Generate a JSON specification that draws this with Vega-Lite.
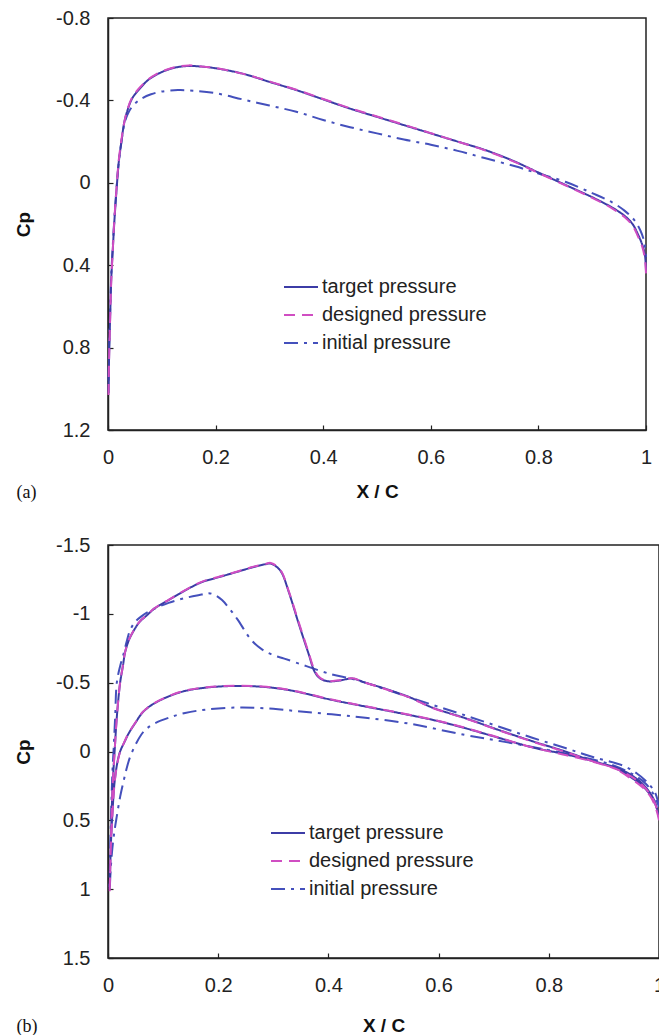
{
  "$schema": "https://vega.github.io/schema/vega-lite/v6.json",
  "background": "white",
  "padding": {"left": 13, "top": 7, "right": 2, "bottom": 2},
  "datasets": {
    "a": [
      {"s":"target pressure","i":0,"x":0.001,"cp":1.02},{"s":"target pressure","i":1,"x":0.002,"cp":0.85},{"s":"target pressure","i":2,"x":0.004,"cp":0.65},{"s":"target pressure","i":3,"x":0.006,"cp":0.47},{"s":"target pressure","i":4,"x":0.009,"cp":0.32},{"s":"target pressure","i":5,"x":0.012,"cp":0.18},{"s":"target pressure","i":6,"x":0.016,"cp":0.03},{"s":"target pressure","i":7,"x":0.02,"cp":-0.1},{"s":"target pressure","i":8,"x":0.025,"cp":-0.2},{"s":"target pressure","i":9,"x":0.03,"cp":-0.29},{"s":"target pressure","i":10,"x":0.036,"cp":-0.35},{"s":"target pressure","i":11,"x":0.045,"cp":-0.41},{"s":"target pressure","i":12,"x":0.06,"cp":-0.46},{"s":"target pressure","i":13,"x":0.075,"cp":-0.5},{"s":"target pressure","i":14,"x":0.09,"cp":-0.525},{"s":"target pressure","i":15,"x":0.11,"cp":-0.548},{"s":"target pressure","i":16,"x":0.13,"cp":-0.562},{"s":"target pressure","i":17,"x":0.15,"cp":-0.567},{"s":"target pressure","i":18,"x":0.17,"cp":-0.565},{"s":"target pressure","i":19,"x":0.2,"cp":-0.556},{"s":"target pressure","i":20,"x":0.25,"cp":-0.53},{"s":"target pressure","i":21,"x":0.3,"cp":-0.49},{"s":"target pressure","i":22,"x":0.35,"cp":-0.45},{"s":"target pressure","i":23,"x":0.4,"cp":-0.405},{"s":"target pressure","i":24,"x":0.45,"cp":-0.36},{"s":"target pressure","i":25,"x":0.5,"cp":-0.32},{"s":"target pressure","i":26,"x":0.55,"cp":-0.28},{"s":"target pressure","i":27,"x":0.6,"cp":-0.24},{"s":"target pressure","i":28,"x":0.65,"cp":-0.2},{"s":"target pressure","i":29,"x":0.7,"cp":-0.16},{"s":"target pressure","i":30,"x":0.75,"cp":-0.11},{"s":"target pressure","i":31,"x":0.8,"cp":-0.05},{"s":"target pressure","i":32,"x":0.85,"cp":0.01},{"s":"target pressure","i":33,"x":0.9,"cp":0.07},{"s":"target pressure","i":34,"x":0.937,"cp":0.12},{"s":"target pressure","i":35,"x":0.96,"cp":0.16},{"s":"target pressure","i":36,"x":0.975,"cp":0.2},{"s":"target pressure","i":37,"x":0.985,"cp":0.25},{"s":"target pressure","i":38,"x":0.993,"cp":0.3},{"s":"target pressure","i":39,"x":0.998,"cp":0.35},{"s":"target pressure","i":40,"x":1.0,"cp":0.43},
      {"s":"designed pressure","i":0,"x":0.001,"cp":1.03},{"s":"designed pressure","i":1,"x":0.002,"cp":0.86},{"s":"designed pressure","i":2,"x":0.004,"cp":0.66},{"s":"designed pressure","i":3,"x":0.006,"cp":0.48},{"s":"designed pressure","i":4,"x":0.009,"cp":0.32},{"s":"designed pressure","i":5,"x":0.012,"cp":0.17},{"s":"designed pressure","i":6,"x":0.016,"cp":0.02},{"s":"designed pressure","i":7,"x":0.02,"cp":-0.11},{"s":"designed pressure","i":8,"x":0.025,"cp":-0.21},{"s":"designed pressure","i":9,"x":0.03,"cp":-0.29},{"s":"designed pressure","i":10,"x":0.036,"cp":-0.355},{"s":"designed pressure","i":11,"x":0.045,"cp":-0.415},{"s":"designed pressure","i":12,"x":0.06,"cp":-0.465},{"s":"designed pressure","i":13,"x":0.075,"cp":-0.503},{"s":"designed pressure","i":14,"x":0.09,"cp":-0.528},{"s":"designed pressure","i":15,"x":0.11,"cp":-0.55},{"s":"designed pressure","i":16,"x":0.13,"cp":-0.564},{"s":"designed pressure","i":17,"x":0.15,"cp":-0.57},{"s":"designed pressure","i":18,"x":0.17,"cp":-0.566},{"s":"designed pressure","i":19,"x":0.2,"cp":-0.557},{"s":"designed pressure","i":20,"x":0.25,"cp":-0.53},{"s":"designed pressure","i":21,"x":0.3,"cp":-0.492},{"s":"designed pressure","i":22,"x":0.35,"cp":-0.452},{"s":"designed pressure","i":23,"x":0.4,"cp":-0.407},{"s":"designed pressure","i":24,"x":0.45,"cp":-0.362},{"s":"designed pressure","i":25,"x":0.5,"cp":-0.322},{"s":"designed pressure","i":26,"x":0.55,"cp":-0.282},{"s":"designed pressure","i":27,"x":0.6,"cp":-0.241},{"s":"designed pressure","i":28,"x":0.65,"cp":-0.2},{"s":"designed pressure","i":29,"x":0.7,"cp":-0.158},{"s":"designed pressure","i":30,"x":0.75,"cp":-0.108},{"s":"designed pressure","i":31,"x":0.8,"cp":-0.048},{"s":"designed pressure","i":32,"x":0.85,"cp":0.012},{"s":"designed pressure","i":33,"x":0.9,"cp":0.073},{"s":"designed pressure","i":34,"x":0.937,"cp":0.124},{"s":"designed pressure","i":35,"x":0.96,"cp":0.166},{"s":"designed pressure","i":36,"x":0.975,"cp":0.208},{"s":"designed pressure","i":37,"x":0.985,"cp":0.26},{"s":"designed pressure","i":38,"x":0.993,"cp":0.31},{"s":"designed pressure","i":39,"x":0.998,"cp":0.37},{"s":"designed pressure","i":40,"x":1.0,"cp":0.44},
      {"s":"initial pressure","i":0,"x":0.001,"cp":0.96},{"s":"initial pressure","i":1,"x":0.002,"cp":0.8},{"s":"initial pressure","i":2,"x":0.004,"cp":0.62},{"s":"initial pressure","i":3,"x":0.006,"cp":0.45},{"s":"initial pressure","i":4,"x":0.009,"cp":0.3},{"s":"initial pressure","i":5,"x":0.012,"cp":0.17},{"s":"initial pressure","i":6,"x":0.016,"cp":0.02},{"s":"initial pressure","i":7,"x":0.02,"cp":-0.1},{"s":"initial pressure","i":8,"x":0.025,"cp":-0.2},{"s":"initial pressure","i":9,"x":0.03,"cp":-0.28},{"s":"initial pressure","i":10,"x":0.036,"cp":-0.33},{"s":"initial pressure","i":11,"x":0.045,"cp":-0.37},{"s":"initial pressure","i":12,"x":0.06,"cp":-0.405},{"s":"initial pressure","i":13,"x":0.08,"cp":-0.43},{"s":"initial pressure","i":14,"x":0.1,"cp":-0.443},{"s":"initial pressure","i":15,"x":0.13,"cp":-0.45},{"s":"initial pressure","i":16,"x":0.16,"cp":-0.447},{"s":"initial pressure","i":17,"x":0.2,"cp":-0.435},{"s":"initial pressure","i":18,"x":0.25,"cp":-0.405},{"s":"initial pressure","i":19,"x":0.3,"cp":-0.375},{"s":"initial pressure","i":20,"x":0.35,"cp":-0.345},{"s":"initial pressure","i":21,"x":0.4,"cp":-0.305},{"s":"initial pressure","i":22,"x":0.45,"cp":-0.27},{"s":"initial pressure","i":23,"x":0.5,"cp":-0.24},{"s":"initial pressure","i":24,"x":0.55,"cp":-0.21},{"s":"initial pressure","i":25,"x":0.6,"cp":-0.185},{"s":"initial pressure","i":26,"x":0.65,"cp":-0.155},{"s":"initial pressure","i":27,"x":0.7,"cp":-0.12},{"s":"initial pressure","i":28,"x":0.757,"cp":-0.08},{"s":"initial pressure","i":29,"x":0.8,"cp":-0.045},{"s":"initial pressure","i":30,"x":0.85,"cp":-0.005},{"s":"initial pressure","i":31,"x":0.9,"cp":0.05},{"s":"initial pressure","i":32,"x":0.937,"cp":0.095},{"s":"initial pressure","i":33,"x":0.96,"cp":0.135},{"s":"initial pressure","i":34,"x":0.978,"cp":0.18},{"s":"initial pressure","i":35,"x":0.99,"cp":0.234},{"s":"initial pressure","i":36,"x":0.997,"cp":0.29},{"s":"initial pressure","i":37,"x":1.0,"cp":0.36}
    ],
    "b": [
      {"s":"target pressure","i":0,"x":1.0,"cp":0.48},{"s":"target pressure","i":1,"x":0.995,"cp":0.4},{"s":"target pressure","i":2,"x":0.985,"cp":0.32},{"s":"target pressure","i":3,"x":0.97,"cp":0.25},{"s":"target pressure","i":4,"x":0.95,"cp":0.19},{"s":"target pressure","i":5,"x":0.92,"cp":0.12},{"s":"target pressure","i":6,"x":0.88,"cp":0.07},{"s":"target pressure","i":7,"x":0.83,"cp":0.0},{"s":"target pressure","i":8,"x":0.77,"cp":-0.075},{"s":"target pressure","i":9,"x":0.71,"cp":-0.155},{"s":"target pressure","i":10,"x":0.65,"cp":-0.24},{"s":"target pressure","i":11,"x":0.588,"cp":-0.32},{"s":"target pressure","i":12,"x":0.55,"cp":-0.39},{"s":"target pressure","i":13,"x":0.5,"cp":-0.46},{"s":"target pressure","i":14,"x":0.467,"cp":-0.5},{"s":"target pressure","i":15,"x":0.443,"cp":-0.53},{"s":"target pressure","i":16,"x":0.42,"cp":-0.515},{"s":"target pressure","i":17,"x":0.4,"cp":-0.51},{"s":"target pressure","i":18,"x":0.385,"cp":-0.53},{"s":"target pressure","i":19,"x":0.375,"cp":-0.58},{"s":"target pressure","i":20,"x":0.364,"cp":-0.71},{"s":"target pressure","i":21,"x":0.346,"cp":-0.93},{"s":"target pressure","i":22,"x":0.328,"cp":-1.16},{"s":"target pressure","i":23,"x":0.315,"cp":-1.3},{"s":"target pressure","i":24,"x":0.305,"cp":-1.345},{"s":"target pressure","i":25,"x":0.295,"cp":-1.365},{"s":"target pressure","i":26,"x":0.285,"cp":-1.36},{"s":"target pressure","i":27,"x":0.26,"cp":-1.335},{"s":"target pressure","i":28,"x":0.23,"cp":-1.3},{"s":"target pressure","i":29,"x":0.2,"cp":-1.265},{"s":"target pressure","i":30,"x":0.17,"cp":-1.23},{"s":"target pressure","i":31,"x":0.14,"cp":-1.17},{"s":"target pressure","i":32,"x":0.11,"cp":-1.1},{"s":"target pressure","i":33,"x":0.085,"cp":-1.04},{"s":"target pressure","i":34,"x":0.068,"cp":-0.98},{"s":"target pressure","i":35,"x":0.057,"cp":-0.94},{"s":"target pressure","i":36,"x":0.047,"cp":-0.88},{"s":"target pressure","i":37,"x":0.038,"cp":-0.81},{"s":"target pressure","i":38,"x":0.031,"cp":-0.72},{"s":"target pressure","i":39,"x":0.027,"cp":-0.62},{"s":"target pressure","i":40,"x":0.022,"cp":-0.5},{"s":"target pressure","i":41,"x":0.016,"cp":-0.25},{"s":"target pressure","i":42,"x":0.012,"cp":0.0},{"s":"target pressure","i":43,"x":0.009,"cp":0.2},{"s":"target pressure","i":44,"x":0.007,"cp":0.4},{"s":"target pressure","i":45,"x":0.005,"cp":0.7},{"s":"target pressure","i":46,"x":0.003,"cp":1.0},{"s":"target pressure","i":47,"x":0.005,"cp":0.7},{"s":"target pressure","i":48,"x":0.008,"cp":0.45},{"s":"target pressure","i":49,"x":0.012,"cp":0.22},{"s":"target pressure","i":50,"x":0.017,"cp":0.08},{"s":"target pressure","i":51,"x":0.022,"cp":0.0},{"s":"target pressure","i":52,"x":0.03,"cp":-0.07},{"s":"target pressure","i":53,"x":0.038,"cp":-0.135},{"s":"target pressure","i":54,"x":0.05,"cp":-0.21},{"s":"target pressure","i":55,"x":0.062,"cp":-0.28},{"s":"target pressure","i":56,"x":0.08,"cp":-0.34},{"s":"target pressure","i":57,"x":0.11,"cp":-0.4},{"s":"target pressure","i":58,"x":0.14,"cp":-0.44},{"s":"target pressure","i":59,"x":0.18,"cp":-0.465},{"s":"target pressure","i":60,"x":0.23,"cp":-0.476},{"s":"target pressure","i":61,"x":0.28,"cp":-0.47},{"s":"target pressure","i":62,"x":0.33,"cp":-0.445},{"s":"target pressure","i":63,"x":0.406,"cp":-0.375},{"s":"target pressure","i":64,"x":0.45,"cp":-0.34},{"s":"target pressure","i":65,"x":0.528,"cp":-0.28},{"s":"target pressure","i":66,"x":0.6,"cp":-0.22},{"s":"target pressure","i":67,"x":0.648,"cp":-0.17},{"s":"target pressure","i":68,"x":0.7,"cp":-0.11},{"s":"target pressure","i":69,"x":0.77,"cp":-0.03},{"s":"target pressure","i":70,"x":0.83,"cp":0.02},{"s":"target pressure","i":71,"x":0.89,"cp":0.08},{"s":"target pressure","i":72,"x":0.93,"cp":0.13},{"s":"target pressure","i":73,"x":0.96,"cp":0.2},{"s":"target pressure","i":74,"x":0.98,"cp":0.28},{"s":"target pressure","i":75,"x":0.993,"cp":0.37},{"s":"target pressure","i":76,"x":1.0,"cp":0.48},
      {"s":"designed pressure","i":0,"x":1.0,"cp":0.5},{"s":"designed pressure","i":1,"x":0.995,"cp":0.42},{"s":"designed pressure","i":2,"x":0.985,"cp":0.33},{"s":"designed pressure","i":3,"x":0.97,"cp":0.26},{"s":"designed pressure","i":4,"x":0.95,"cp":0.2},{"s":"designed pressure","i":5,"x":0.92,"cp":0.125},{"s":"designed pressure","i":6,"x":0.88,"cp":0.072},{"s":"designed pressure","i":7,"x":0.83,"cp":0.003},{"s":"designed pressure","i":8,"x":0.77,"cp":-0.072},{"s":"designed pressure","i":9,"x":0.71,"cp":-0.153},{"s":"designed pressure","i":10,"x":0.65,"cp":-0.238},{"s":"designed pressure","i":11,"x":0.588,"cp":-0.318},{"s":"designed pressure","i":12,"x":0.55,"cp":-0.388},{"s":"designed pressure","i":13,"x":0.5,"cp":-0.458},{"s":"designed pressure","i":14,"x":0.467,"cp":-0.5},{"s":"designed pressure","i":15,"x":0.443,"cp":-0.532},{"s":"designed pressure","i":16,"x":0.42,"cp":-0.518},{"s":"designed pressure","i":17,"x":0.4,"cp":-0.512},{"s":"designed pressure","i":18,"x":0.385,"cp":-0.535},{"s":"designed pressure","i":19,"x":0.375,"cp":-0.59},{"s":"designed pressure","i":20,"x":0.364,"cp":-0.72},{"s":"designed pressure","i":21,"x":0.346,"cp":-0.94},{"s":"designed pressure","i":22,"x":0.328,"cp":-1.165},{"s":"designed pressure","i":23,"x":0.315,"cp":-1.305},{"s":"designed pressure","i":24,"x":0.305,"cp":-1.35},{"s":"designed pressure","i":25,"x":0.295,"cp":-1.37},{"s":"designed pressure","i":26,"x":0.285,"cp":-1.362},{"s":"designed pressure","i":27,"x":0.26,"cp":-1.338},{"s":"designed pressure","i":28,"x":0.23,"cp":-1.302},{"s":"designed pressure","i":29,"x":0.2,"cp":-1.268},{"s":"designed pressure","i":30,"x":0.17,"cp":-1.232},{"s":"designed pressure","i":31,"x":0.14,"cp":-1.172},{"s":"designed pressure","i":32,"x":0.11,"cp":-1.102},{"s":"designed pressure","i":33,"x":0.085,"cp":-1.042},{"s":"designed pressure","i":34,"x":0.068,"cp":-0.982},{"s":"designed pressure","i":35,"x":0.057,"cp":-0.942},{"s":"designed pressure","i":36,"x":0.047,"cp":-0.882},{"s":"designed pressure","i":37,"x":0.038,"cp":-0.812},{"s":"designed pressure","i":38,"x":0.031,"cp":-0.722},{"s":"designed pressure","i":39,"x":0.027,"cp":-0.622},{"s":"designed pressure","i":40,"x":0.022,"cp":-0.5},{"s":"designed pressure","i":41,"x":0.016,"cp":-0.25},{"s":"designed pressure","i":42,"x":0.012,"cp":0.0},{"s":"designed pressure","i":43,"x":0.009,"cp":0.2},{"s":"designed pressure","i":44,"x":0.007,"cp":0.4},{"s":"designed pressure","i":45,"x":0.005,"cp":0.7},{"s":"designed pressure","i":46,"x":0.003,"cp":1.03},{"s":"designed pressure","i":47,"x":0.005,"cp":0.72},{"s":"designed pressure","i":48,"x":0.008,"cp":0.46},{"s":"designed pressure","i":49,"x":0.012,"cp":0.23},{"s":"designed pressure","i":50,"x":0.017,"cp":0.085},{"s":"designed pressure","i":51,"x":0.022,"cp":0.002},{"s":"designed pressure","i":52,"x":0.03,"cp":-0.072},{"s":"designed pressure","i":53,"x":0.038,"cp":-0.138},{"s":"designed pressure","i":54,"x":0.05,"cp":-0.212},{"s":"designed pressure","i":55,"x":0.062,"cp":-0.282},{"s":"designed pressure","i":56,"x":0.08,"cp":-0.342},{"s":"designed pressure","i":57,"x":0.11,"cp":-0.402},{"s":"designed pressure","i":58,"x":0.14,"cp":-0.442},{"s":"designed pressure","i":59,"x":0.18,"cp":-0.467},{"s":"designed pressure","i":60,"x":0.23,"cp":-0.478},{"s":"designed pressure","i":61,"x":0.28,"cp":-0.472},{"s":"designed pressure","i":62,"x":0.33,"cp":-0.447},{"s":"designed pressure","i":63,"x":0.406,"cp":-0.377},{"s":"designed pressure","i":64,"x":0.45,"cp":-0.342},{"s":"designed pressure","i":65,"x":0.528,"cp":-0.282},{"s":"designed pressure","i":66,"x":0.6,"cp":-0.222},{"s":"designed pressure","i":67,"x":0.648,"cp":-0.172},{"s":"designed pressure","i":68,"x":0.7,"cp":-0.112},{"s":"designed pressure","i":69,"x":0.77,"cp":-0.03},{"s":"designed pressure","i":70,"x":0.83,"cp":0.025},{"s":"designed pressure","i":71,"x":0.89,"cp":0.085},{"s":"designed pressure","i":72,"x":0.93,"cp":0.14},{"s":"designed pressure","i":73,"x":0.96,"cp":0.21},{"s":"designed pressure","i":74,"x":0.98,"cp":0.29},{"s":"designed pressure","i":75,"x":0.993,"cp":0.38},{"s":"designed pressure","i":76,"x":1.0,"cp":0.5},
      {"s":"initial pressure","i":0,"x":1.0,"cp":0.4},{"s":"initial pressure","i":1,"x":0.993,"cp":0.3},{"s":"initial pressure","i":2,"x":0.98,"cp":0.23},{"s":"initial pressure","i":3,"x":0.96,"cp":0.16},{"s":"initial pressure","i":4,"x":0.933,"cp":0.1},{"s":"initial pressure","i":5,"x":0.88,"cp":0.04},{"s":"initial pressure","i":6,"x":0.83,"cp":-0.025},{"s":"initial pressure","i":7,"x":0.77,"cp":-0.1},{"s":"initial pressure","i":8,"x":0.71,"cp":-0.18},{"s":"initial pressure","i":9,"x":0.65,"cp":-0.26},{"s":"initial pressure","i":10,"x":0.588,"cp":-0.34},{"s":"initial pressure","i":11,"x":0.52,"cp":-0.43},{"s":"initial pressure","i":12,"x":0.467,"cp":-0.5},{"s":"initial pressure","i":13,"x":0.44,"cp":-0.53},{"s":"initial pressure","i":14,"x":0.406,"cp":-0.56},{"s":"initial pressure","i":15,"x":0.36,"cp":-0.62},{"s":"initial pressure","i":16,"x":0.32,"cp":-0.675},{"s":"initial pressure","i":17,"x":0.3,"cp":-0.7},{"s":"initial pressure","i":18,"x":0.28,"cp":-0.74},{"s":"initial pressure","i":19,"x":0.26,"cp":-0.81},{"s":"initial pressure","i":20,"x":0.235,"cp":-0.96},{"s":"initial pressure","i":21,"x":0.22,"cp":-1.04},{"s":"initial pressure","i":22,"x":0.207,"cp":-1.1},{"s":"initial pressure","i":23,"x":0.195,"cp":-1.135},{"s":"initial pressure","i":24,"x":0.183,"cp":-1.15},{"s":"initial pressure","i":25,"x":0.17,"cp":-1.14},{"s":"initial pressure","i":26,"x":0.14,"cp":-1.115},{"s":"initial pressure","i":27,"x":0.11,"cp":-1.08},{"s":"initial pressure","i":28,"x":0.08,"cp":-1.03},{"s":"initial pressure","i":29,"x":0.06,"cp":-0.98},{"s":"initial pressure","i":30,"x":0.049,"cp":-0.94},{"s":"initial pressure","i":31,"x":0.04,"cp":-0.88},{"s":"initial pressure","i":32,"x":0.034,"cp":-0.8},{"s":"initial pressure","i":33,"x":0.029,"cp":-0.72},{"s":"initial pressure","i":34,"x":0.022,"cp":-0.62},{"s":"initial pressure","i":35,"x":0.016,"cp":-0.5},{"s":"initial pressure","i":36,"x":0.013,"cp":-0.25},{"s":"initial pressure","i":37,"x":0.01,"cp":0.0},{"s":"initial pressure","i":38,"x":0.008,"cp":0.15},{"s":"initial pressure","i":39,"x":0.006,"cp":0.4},{"s":"initial pressure","i":40,"x":0.004,"cp":0.7},{"s":"initial pressure","i":41,"x":0.003,"cp":1.0},{"s":"initial pressure","i":42,"x":0.005,"cp":0.85},{"s":"initial pressure","i":43,"x":0.008,"cp":0.7},{"s":"initial pressure","i":44,"x":0.012,"cp":0.57},{"s":"initial pressure","i":45,"x":0.016,"cp":0.47},{"s":"initial pressure","i":46,"x":0.022,"cp":0.33},{"s":"initial pressure","i":47,"x":0.028,"cp":0.22},{"s":"initial pressure","i":48,"x":0.034,"cp":0.12},{"s":"initial pressure","i":49,"x":0.04,"cp":0.04},{"s":"initial pressure","i":50,"x":0.05,"cp":-0.05},{"s":"initial pressure","i":51,"x":0.06,"cp":-0.12},{"s":"initial pressure","i":52,"x":0.07,"cp":-0.165},{"s":"initial pressure","i":53,"x":0.085,"cp":-0.205},{"s":"initial pressure","i":54,"x":0.11,"cp":-0.245},{"s":"initial pressure","i":55,"x":0.14,"cp":-0.28},{"s":"initial pressure","i":56,"x":0.18,"cp":-0.305},{"s":"initial pressure","i":57,"x":0.24,"cp":-0.32},{"s":"initial pressure","i":58,"x":0.3,"cp":-0.31},{"s":"initial pressure","i":59,"x":0.35,"cp":-0.29},{"s":"initial pressure","i":60,"x":0.406,"cp":-0.27},{"s":"initial pressure","i":61,"x":0.467,"cp":-0.245},{"s":"initial pressure","i":62,"x":0.55,"cp":-0.2},{"s":"initial pressure","i":63,"x":0.648,"cp":-0.12},{"s":"initial pressure","i":64,"x":0.72,"cp":-0.07},{"s":"initial pressure","i":65,"x":0.8,"cp":-0.01},{"s":"initial pressure","i":66,"x":0.86,"cp":0.04},{"s":"initial pressure","i":67,"x":0.91,"cp":0.09},{"s":"initial pressure","i":68,"x":0.95,"cp":0.16},{"s":"initial pressure","i":69,"x":0.975,"cp":0.23},{"s":"initial pressure","i":70,"x":0.99,"cp":0.31},{"s":"initial pressure","i":71,"x":1.0,"cp":0.4}
    ]
  },
  "vconcat": [
    {
      "width": 538,
      "height": 412,
      "data": {"name": "a"},
      "title": {"text": "(a)", "orient": "bottom", "anchor": "start", "frame": "bounds", "font": "Liberation Serif", "fontSize": 18, "fontWeight": "normal", "color": "#111", "offset": 0, "dy": -17, "dx": 2},
      "encoding": {
        "x": {"field": "x", "type": "quantitative", "scale": {"domain": [0, 1], "nice": false, "zero": false},
              "axis": {"values": [0, 0.2, 0.4, 0.6, 0.8, 1], "title": "X / C", "titlePadding": 15, "labelExpr": "datum.value < 0 ? '-' + format(-datum.value, '~g') : format(datum.value, '~g')"}},
        "y": {"field": "cp", "type": "quantitative", "scale": {"domain": [-0.8, 1.2], "reverse": true, "nice": false, "zero": false},
              "axis": {"values": [-0.8, -0.4, 0, 0.4, 0.8, 1.2], "title": "Cp", "labelExpr": "datum.value < 0 ? '-' + format(-datum.value, '~g') : format(datum.value, '~g')"}},
        "color": {"field": "s", "type": "nominal", "scale": {"domain": ["target pressure", "designed pressure", "initial pressure"], "range": ["#3c3ca6", "#d04ec2", "#4450bc"]}, "legend": {"orient": "none", "legendX": 175, "legendY": 251, "title": null}},
        "strokeDash": {"field": "s", "type": "nominal", "scale": {"domain": ["target pressure", "designed pressure", "initial pressure"], "range": [[1, 0], [11, 7], [14, 6, 3, 6]]}, "legend": {"orient": "none", "legendX": 175, "legendY": 251, "title": null}},
        "order": {"field": "i", "type": "quantitative"}
      },
      "layer": [
        {"transform": [{"filter": "datum.s === 'initial pressure'"}], "mark": {"type": "line", "strokeWidth": 2, "interpolate": "catmull-rom"}},
        {"transform": [{"filter": "datum.s === 'target pressure'"}], "mark": {"type": "line", "strokeWidth": 2, "interpolate": "catmull-rom"}},
        {"transform": [{"filter": "datum.s === 'designed pressure'"}], "mark": {"type": "line", "strokeWidth": 2, "interpolate": "catmull-rom"}}
      ]
    },
    {
      "width": 551,
      "height": 413,
      "data": {"name": "b"},
      "title": {"text": "(b)", "orient": "bottom", "anchor": "start", "frame": "bounds", "font": "Liberation Serif", "fontSize": 18, "fontWeight": "normal", "color": "#111", "offset": 0, "dy": -17, "dx": 2},
      "encoding": {
        "x": {"field": "x", "type": "quantitative", "scale": {"domain": [0, 1], "nice": false, "zero": false},
              "axis": {"values": [0, 0.2, 0.4, 0.6, 0.8, 1], "title": "X / C", "titlePadding": 21, "labelExpr": "datum.value < 0 ? '-' + format(-datum.value, '~g') : format(datum.value, '~g')"}},
        "y": {"field": "cp", "type": "quantitative", "scale": {"domain": [-1.5, 1.5], "reverse": true, "nice": false, "zero": false},
              "axis": {"values": [-1.5, -1, -0.5, 0, 0.5, 1, 1.5], "title": "Cp", "labelExpr": "datum.value < 0 ? '-' + format(-datum.value, '~g') : format(datum.value, '~g')"}},
        "color": {"field": "s", "type": "nominal", "scale": {"domain": ["target pressure", "designed pressure", "initial pressure"], "range": ["#3c3ca6", "#d04ec2", "#4450bc"]}, "legend": {"orient": "none", "legendX": 162, "legendY": 270, "title": null}},
        "strokeDash": {"field": "s", "type": "nominal", "scale": {"domain": ["target pressure", "designed pressure", "initial pressure"], "range": [[1, 0], [11, 7], [14, 6, 3, 6]]}, "legend": {"orient": "none", "legendX": 162, "legendY": 270, "title": null}},
        "order": {"field": "i", "type": "quantitative"}
      },
      "layer": [
        {"transform": [{"filter": "datum.s === 'initial pressure'"}], "mark": {"type": "line", "strokeWidth": 2, "interpolate": "catmull-rom"}},
        {"transform": [{"filter": "datum.s === 'target pressure'"}], "mark": {"type": "line", "strokeWidth": 2, "interpolate": "catmull-rom"}},
        {"transform": [{"filter": "datum.s === 'designed pressure'"}], "mark": {"type": "line", "strokeWidth": 2, "interpolate": "catmull-rom"}}
      ]
    }
  ],
  "resolve": {"scale": {"color": "independent", "strokeDash": "independent"}, "legend": {"color": "independent", "strokeDash": "independent"}},
  "spacing": 31,
  "config": {
    "view": {"stroke": "#222", "strokeWidth": 1.5},
    "axis": {"grid": false, "domainColor": "#222", "domainWidth": 1.5, "tickColor": "#222", "tickSize": -5, "tickWidth": 1.2,
             "labelFont": "Liberation Sans", "labelFontSize": 20, "labelColor": "#222",
             "titleFont": "Liberation Sans", "titleFontSize": 19, "titleFontWeight": "bold", "titleColor": "#111"},
    "axisX": {"labelFlush": false, "labelPadding": 22},
    "axisY": {"labelPadding": 23, "titlePadding": 22},
    "legend": {"symbolType": "stroke", "symbolSize": 1156, "symbolStrokeWidth": 2, "labelFont": "Liberation Sans", "labelFontSize": 20, "labelColor": "#222", "labelLimit": 400, "rowPadding": -6, "labelOffset": 3, "padding": 0}
  }
}
